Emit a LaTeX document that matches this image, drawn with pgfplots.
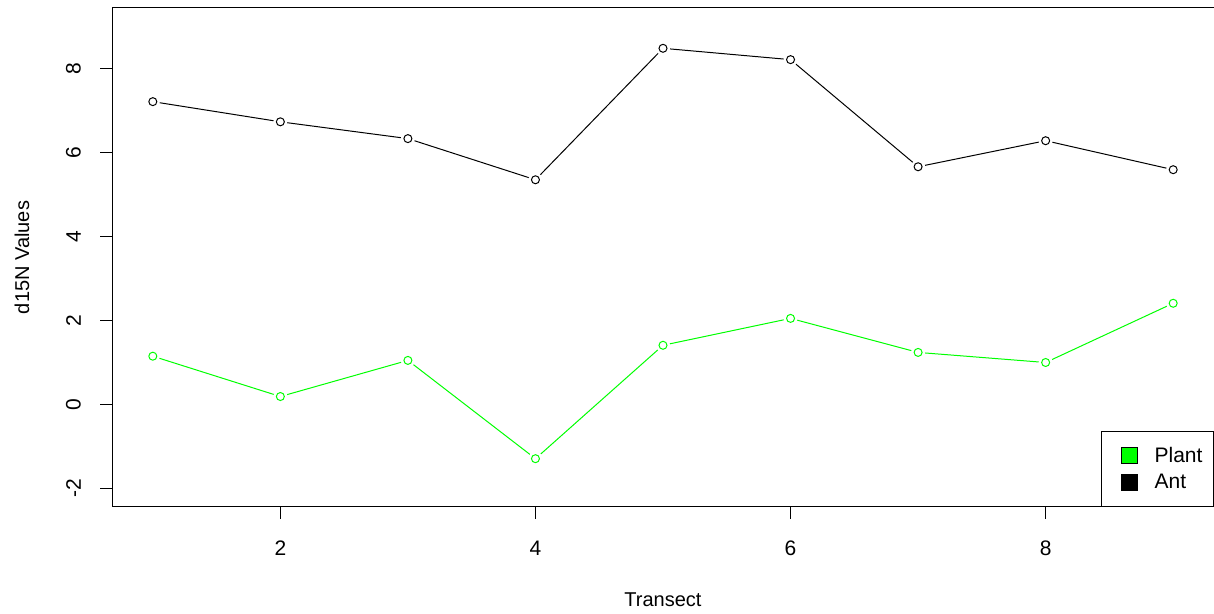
\documentclass[border=0pt]{standalone}
\usepackage{pgfplots}
\pgfplotsset{compat=1.18}
\usepackage{fontspec}
\setmainfont{Liberation Sans}
\definecolor{rgreen}{RGB}{0,255,0}
\pgfplotstableread{
x ant plant
1 7.21 1.15
2 6.73 0.19
3 6.33 1.05
4 5.35 -1.29
5 8.48 1.41
6 8.21 2.05
7 5.66 1.24
8 6.28 1.00
9 5.59 2.41
}\datatable
\begin{document}
\begin{tikzpicture}
\useasboundingbox (0,0) rectangle (607pt,307pt);
\begin{axis}[
  at={(56pt,53.5pt)}, anchor=south west,
  scale only axis, width=551pt, height=249.5pt,
  xmin=0.68, xmax=9.32, ymin=-2.44, ymax=9.44,
  xtick={2,4,6,8}, ytick={-2,0,2,4,6,8},
  tick align=outside, tick pos=left,
  major tick length=6pt,
  axis line style={black, line width=0.5pt},
  every tick/.style={black, line width=0.5pt},
  /pgf/number format/assume math mode=true,
  tick label style={font=\fontsize{10.5}{12.6}\selectfont},
  xticklabel style={anchor=north, yshift=-7.5pt},
  yticklabel style={rotate=90, anchor=south, yshift=6pt},
  label style={font=\fontsize{10.5}{12.6}\selectfont},
  xlabel={Transect},
  ylabel={d15N Values},
  every axis x label/.style={at={(rel axis cs:0.5,0)}, anchor=center, yshift=-46.5pt},
  every axis y label/.style={at={(rel axis cs:0,0.5)}, anchor=center, rotate=90, yshift=45pt},
  clip=false,
  legend cell align=left,
  legend style={at={(rel axis cs:1,0)}, anchor=south east, draw=black, line width=0.5pt, fill=white,
    font=\fontsize{10.5}{12.6}\selectfont, inner xsep=4pt, inner ysep=6pt, row sep=1.5pt,
    nodes={inner sep=1.5pt}},
  legend image code/.code={\path[draw=none, fill=none] (-6pt,0pt) -- (15pt,0pt); \draw[#1, draw=black, line width=0.5pt] (0pt,-4pt) rectangle (8pt,4pt);},
]
% ant
\addplot[black, line width=0.5pt, forget plot] table[x=x, y=ant] {\datatable};
\addplot[white, only marks, mark=*, mark size=3.3pt, forget plot] table[x=x, y=ant] {\datatable};
\addplot[black, only marks, mark=o, mark size=2pt, mark options={line width=0.5pt}, forget plot] table[x=x, y=ant] {\datatable};
% plant
\addplot[rgreen, line width=0.5pt, forget plot] table[x=x, y=plant] {\datatable};
\addplot[white, only marks, mark=*, mark size=3.3pt, forget plot] table[x=x, y=plant] {\datatable};
\addplot[rgreen, only marks, mark=o, mark size=2pt, mark options={line width=0.5pt}, forget plot] table[x=x, y=plant] {\datatable};
\addlegendimage{fill=rgreen}
\addlegendentry{Plant}
\addlegendimage{fill=black}
\addlegendentry{Ant}
\end{axis}
\end{tikzpicture}
\end{document}
